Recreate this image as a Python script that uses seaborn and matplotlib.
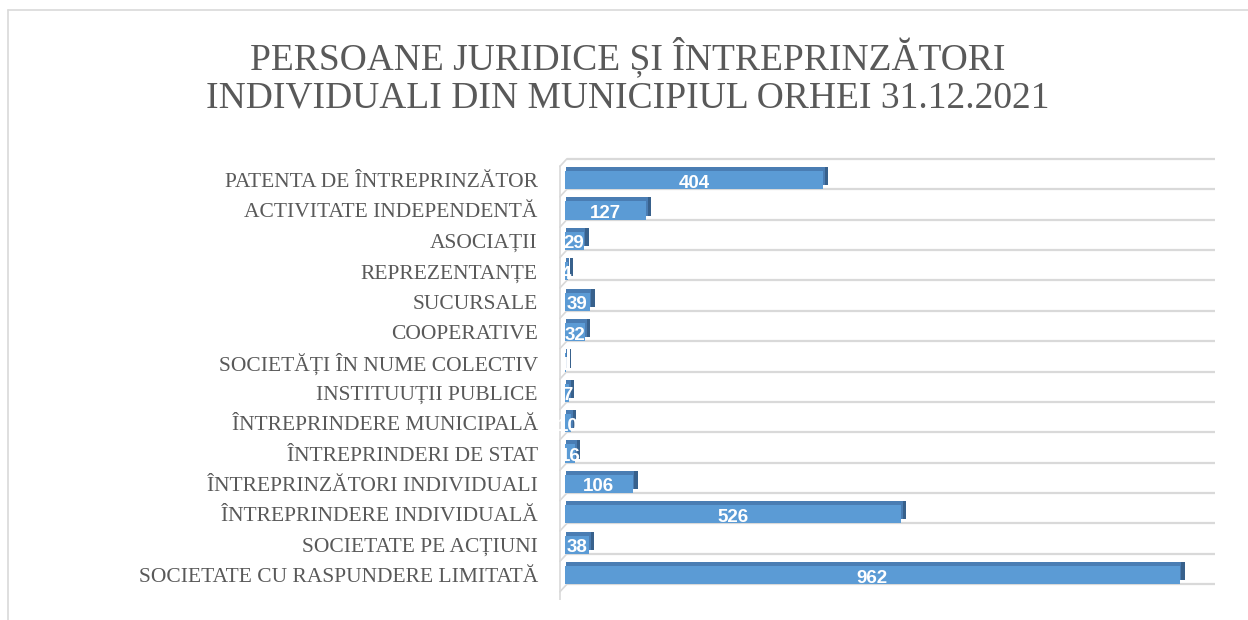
import matplotlib
matplotlib.use("Agg")
import matplotlib.pyplot as plt
import matplotlib.transforms as mtransforms
from matplotlib import font_manager
import seaborn as sns
import pandas as pd

# Data (top to bottom as in the chart)
categories = [
    "PATENTA DE ÎNTREPRINZĂTOR",
    "ACTIVITATE INDEPENDENTĂ",
    "ASOCIAȚII",
    "REPREZENTANȚE",
    "SUCURSALE",
    "COOPERATIVE",
    "SOCIETĂȚI ÎN NUME COLECTIV",
    "INSTITUUȚII PUBLICE",
    "ÎNTREPRINDERE MUNICIPALĂ",
    "ÎNTREPRINDERI DE STAT",
    "ÎNTREPRINZĂTORI INDIVIDUALI",
    "ÎNTREPRINDERE INDIVIDUALĂ",
    "SOCIETATE PE ACȚIUNI",
    "SOCIETATE CU RASPUNDERE LIMITATĂ",
]
counts = [404, 127, 29, 4, 39, 32, 1, 7, 10, 16, 106, 526, 38, 962]

title = "PERSOANE JURIDICE ȘI ÎNTREPRINZĂTORI\nINDIVIDUALI DIN MUNICIPIUL ORHEI 31.12.2021"

df = pd.DataFrame({"categorie": categories, "numar": counts})

sns.set_style("white")
plt.rcParams["font.family"] = ["Liberation Serif", "DejaVu Serif"]

names = {f.name for f in font_manager.fontManager.ttflist}
label_font = "Liberation Sans Narrow" if "Liberation Sans Narrow" in names else "Liberation Sans"

front = "#5B9BD5"
top_c = "#4A7DB3"
side_c = "#38618C"
grid_c = "#D9D9D9"
text_c = "#595959"

fig = plt.figure(figsize=(12.48, 6.2), dpi=100)
ax = fig.add_axes([557.3 / 1248, 1 - 600 / 620, 657.7 / 1248, 450 / 620])


def depth_layer(color, dx, dy, z):
    start = len(ax.patches)
    sns.barplot(data=df, x="numar", y="categorie", orient="h", color=color,
                saturation=1, width=0.6, ax=ax)
    off = mtransforms.ScaledTranslation(dx / 100, dy / 100, fig.dpi_scale_trans)
    for p in ax.patches[start:]:
        p.set_transform(ax.transData + off)
        p.set_linewidth(0)
        p.set_zorder(z)


# side and top faces of the 3D bars
depth_layer(side_c, 5, 4, 2)
depth_layer(top_c, 1.5, 4, 2.5)

# front faces
start = len(ax.patches)
sns.barplot(data=df, x="numar", y="categorie", orient="h", color=front,
            saturation=1, width=0.6, ax=ax)
for p in ax.patches[start:]:
    p.set_linewidth(0)
    p.set_zorder(3)

# floor lines
n = len(categories)
for i in range(-1, n):
    ax.plot([3, 1017], [i + 0.3, i + 0.3], color=grid_c, lw=1.6, zorder=1,
            solid_capstyle="butt")
    ax.plot([-8, 3], [i + 0.55, i + 0.3], color=grid_c, lw=1.2, zorder=1)
ax.plot([-8, -8], [-0.45, n - 0.45 + 0.35], color=grid_c, lw=1.2, zorder=1)

# value labels
for i, v in enumerate(counts):
    ax.text(v / 2, i + 0.1, str(v), ha="center", va="center", color="white",
            fontsize=13.5, fontweight="bold", family=label_font, zorder=5)

ax.set_xlim(-12, 1017)
ax.set_ylim(n - 0.18, -0.99)
ax.set_xlabel("")
ax.set_ylabel("")
ax.set_xticks([])
ax.tick_params(axis="y", length=0, pad=14, labelsize=15.5, labelcolor=text_c)
for s in ax.spines.values():
    s.set_visible(False)
ax.patch.set_alpha(0)

fig.text(628 / 1248, 1 - 76 / 620, title, ha="center", va="center",
         fontsize=27, color=text_c, linespacing=1.15)

# chart border (left and top)
fig.add_artist(plt.Line2D([8 / 1248, 8 / 1248], [0, 1 - 10 / 620], color=grid_c,
                          lw=1.2, transform=fig.transFigure))
fig.add_artist(plt.Line2D([8 / 1248, 1], [1 - 10 / 620, 1 - 10 / 620], color=grid_c,
                          lw=1.2, transform=fig.transFigure))

fig.savefig("out.png", dpi=100)
